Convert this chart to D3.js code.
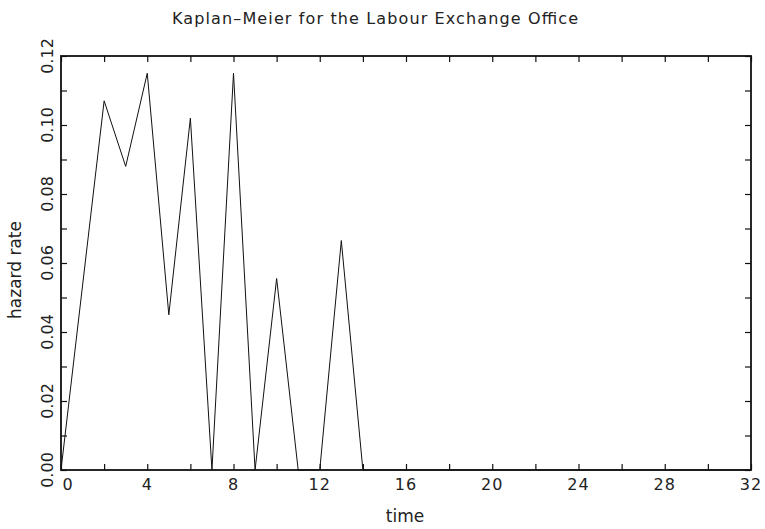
<!DOCTYPE html>
<html>
<head>
<meta charset="utf-8">
<script src="https://cdn.jsdelivr.net/npm/d3@7"></script>
<style>
  body { margin: 0; background: #fff; }
  text { font-family: 'DejaVu Sans', sans-serif; fill: #222; }
</style>
</head>
<body>
<svg id="chart" width="765" height="529"></svg>
<script>
// hazard rate by time
var timeVals = [0, 2, 3, 4, 5, 6, 7, 8, 9, 10, 11, 12, 13, 14, 16, 18, 20, 22, 24, 26, 28, 30, 32];
var hazardVals = [0, 0.107, 0.088, 0.115, 0.045, 0.102, 0, 0.115, 0, 0.0555, 0, 0, 0.0665, 0, 0, 0, 0, 0, 0, 0, 0, 0, 0];
var xTicks = [0, 2, 4, 6, 8, 10, 12, 14, 16, 18, 20, 22, 24, 26, 28, 30, 32];
var xLabels = [0, 4, 8, 12, 16, 20, 24, 28, 32];
var yTicks = [0, 0.01, 0.02, 0.03, 0.04, 0.05, 0.06, 0.07, 0.08, 0.09, 0.10, 0.11, 0.12];
var yLabels = ['0.00', '0.02', '0.04', '0.06', '0.08', '0.10', '0.12'];

var svg = d3.select('#chart'),
	margin = { top: 56, right: 14, bottom: 59, left: 61 },
	width = 765 - margin.left - margin.right,
	height = 529 - margin.top - margin.bottom;

var x = d3.scaleLinear().domain([0, 32]).range([0, width]);
var y = d3.scaleLinear().domain([0, 0.12]).range([height, 0]);

var g = svg.append('g').attr('transform', 'translate(' + margin.left + ',' + margin.top + ')');

// ticks on all four sides, pointing in
var TICK = 6;
g.append('g').attr('transform', 'translate(0,' + height + ')')
	.call(d3.axisBottom(x).tickValues(xTicks).tickSizeInner(-TICK).tickSizeOuter(0).tickFormat(''));
g.append('g')
	.call(d3.axisTop(x).tickValues(xTicks).tickSizeInner(-TICK).tickSizeOuter(0).tickFormat(''));
g.append('g')
	.call(d3.axisLeft(y).tickValues(yTicks).tickSizeInner(-TICK).tickSizeOuter(0).tickFormat(''));
g.append('g').attr('transform', 'translate(' + width + ',0)')
	.call(d3.axisRight(y).tickValues(yTicks).tickSizeInner(-TICK).tickSizeOuter(0).tickFormat(''));
g.selectAll('.domain').remove();
g.selectAll('.tick line').attr('stroke', '#111').attr('stroke-width', 1.2);

// frame
g.append('rect')
	.attr('width', width)
	.attr('height', height)
	.attr('fill', 'none')
	.attr('stroke', '#111')
	.attr('stroke-width', 1.8);

// x labels
g.selectAll('.xlab')
	.data(xLabels)
	.enter()
	.append('text')
	.attr('class', 'xlab')
	.attr('x', function(d) { return x(d) + (d == 0 ? 7 : 0); })
	.attr('y', height + 20)
	.attr('text-anchor', 'middle')
	.style('font-size', '16px')
	.style('letter-spacing', '1px')
	.text(function(d) { return d; });

// y labels, rotated
g.selectAll('.ylab')
	.data(yLabels)
	.enter()
	.append('text')
	.attr('class', 'ylab')
	.attr('transform', function(d) { return 'translate(-8,' + y(+d) + ') rotate(-90)'; })
	.attr('text-anchor', 'middle')
	.style('font-size', '16px')
	.text(function(d) { return d; });

// the line
var line = d3.line()
	.x(function(d, i) { return x(timeVals[i]); })
	.y(function(d) { return y(d); });

g.append('path')
	.datum(hazardVals)
	.attr('d', line)
	.attr('fill', 'none')
	.attr('stroke', '#111')
	.attr('stroke-width', 1);

// titles
svg.append('text')
	.attr('x', 375)
	.attr('y', 24)
	.attr('text-anchor', 'middle')
	.attr('textLength', 406)
	.attr('lengthAdjust', 'spacing')
	.style('font-size', '16px')
	.text('Kaplan\u2013Meier for the Labour Exchange Office');

svg.append('text')
	.attr('x', 405)
	.attr('y', 522)
	.attr('text-anchor', 'middle')
	.style('font-size', '17px')
	.text('time');

svg.append('text')
	.attr('transform', 'translate(21,270) rotate(-90)')
	.attr('text-anchor', 'middle')
	.style('font-size', '17px')
	.text('hazard rate');
</script>
</body>
</html>
